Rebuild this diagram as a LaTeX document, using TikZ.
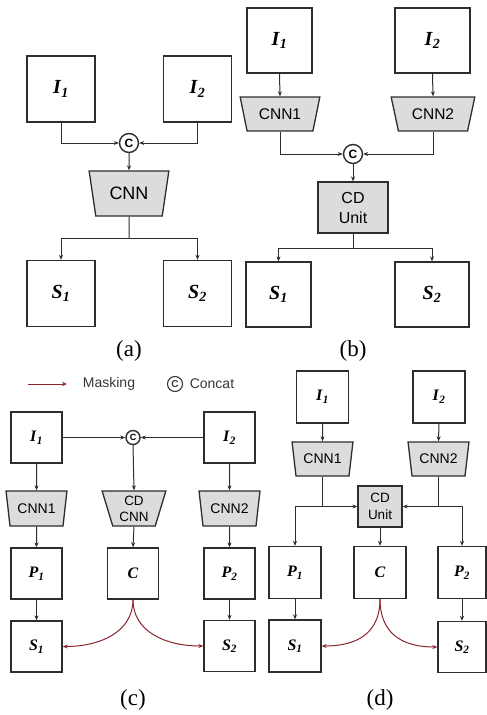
\documentclass[tikz,border=0pt]{standalone}
\usepackage{fontspec}
\setmainfont{Liberation Serif}
\setsansfont{Liberation Sans}
\usetikzlibrary{shapes.geometric,arrows.meta}
\definecolor{edgec}{RGB}{45,45,45}
\definecolor{trapfill}{RGB}{220,220,220}
\definecolor{maskred}{RGB}{140,35,45}
\definecolor{legtext}{RGB}{55,55,55}
\newcommand{\lbl}[2]{\textbf{\textit{#1}}\textsubscript{\textbf{\textit{#2}}}}
\tikzset{
  box/.style={draw=edgec,line width=1.3pt,fill=white,inner sep=0pt},
  bigbox/.style={box,minimum width=68pt,minimum height=66pt,font=\fontsize{20}{20}\selectfont},
  midbox/.style={box,font=\fontsize{20}{20}\selectfont},
  smallbox/.style={box,minimum width=51pt,minimum height=51pt,font=\fontsize{16}{16}\selectfont},
  trap/.style={trapezium,trapezium stretches=true,shape border rotate=180,draw=edgec,line width=1.3pt,fill=trapfill,inner sep=0pt},
  unitbox/.style={draw=edgec,line width=1.3pt,fill=trapfill,inner sep=0pt,align=center},
  conn/.style={draw=edgec,line width=1pt,-{Stealth[length=5pt,width=4pt]}},
  plain/.style={draw=edgec,line width=1pt},
  mask/.style={draw=maskred,line width=1pt,-{Stealth[length=5pt,width=4pt]}},
  cat/.style={circle,draw=edgec,line width=1.4pt,fill=white,inner sep=0pt,font=\sffamily\bfseries},
  captxt/.style={font=\fontsize{23}{23}\selectfont},
  legtxt/.style={font=\sffamily\fontsize{14}{14}\selectfont,text=legtext}
}
\begin{document}
\begin{tikzpicture}[x=1pt,y=-1pt]
\useasboundingbox (0,0) rectangle (487,715);
% ---------------- (a)
\node[bigbox] (aI1) at (61,89) {\lbl{I}{1}};
\node[bigbox] (aI2) at (197.5,89) {\lbl{I}{2}};
\node[cat,minimum size=19pt,font=\sffamily\bfseries\fontsize{12}{12}\selectfont] (acat) at (129,143) {C};
\node[trap,minimum width=80pt,minimum height=45pt,trapezium angle=73,font=\sffamily\fontsize{18}{18}\selectfont] (acnn) at (129,193.5) {CNN};
\node[bigbox] (aS1) at (61,293.5) {\lbl{S}{1}};
\node[bigbox] (aS2) at (197.5,293.5) {\lbl{S}{2}};
\draw[conn] (aI1.south) |- (acat.west);
\draw[conn] (aI2.south) |- (acat.east);
\draw[conn] (acat.south) -- (acnn.north);
\coordinate (asplit) at (129,238);
\draw[plain] (acnn.south) -- (asplit);
\draw[conn] (asplit) -| (aS1.north);
\draw[conn] (asplit) -| (aS2.north);
\node[captxt] (acap) at (129,351) {(a)};
% ---------------- (b)
\node[midbox,minimum width=65pt,minimum height=65pt] (bI1) at (279.5,40.5) {\lbl{I}{1}};
\node[midbox,minimum width=75pt,minimum height=65pt] (bI2) at (432.5,40.5) {\lbl{I}{2}};
\node[trap,minimum width=80pt,minimum height=34pt,trapezium angle=68,font=\sffamily\fontsize{15.5}{15.5}\selectfont] (bcnn1) at (280,114) {CNN1};
\node[trap,minimum width=84pt,minimum height=34pt,trapezium angle=68,font=\sffamily\fontsize{15.5}{15.5}\selectfont] (bcnn2) at (433,114) {CNN2};
\node[cat,minimum size=19pt,font=\sffamily\bfseries\fontsize{12}{12}\selectfont] (bcat) at (353,154) {C};
\node[unitbox,minimum width=70pt,minimum height=51pt,font=\sffamily\fontsize{16}{20}\selectfont] (bunit) at (353,207.5) {CD\\Unit};
\node[midbox,minimum width=65pt,minimum height=65pt] (bS1) at (278.5,294.5) {\lbl{S}{1}};
\node[midbox,minimum width=74pt,minimum height=65pt] (bS2) at (432,294.5) {\lbl{S}{2}};
\draw[conn] (bI1.south) -- (bcnn1.north);
\draw[conn] (bI2.south) -- (bcnn2.north);
\draw[conn] (bcnn1.south) |- (bcat.west);
\draw[conn] (bcnn2.south) |- (bcat.east);
\draw[conn] (bcat.south) -- (bunit.north);
\coordinate (bsplit) at (353,248);
\draw[plain] (bunit.south) -- (bsplit);
\draw[conn] (bsplit) -| (bS1.north);
\draw[conn] (bsplit) -| (bS2.north);
\node[captxt] (bcap) at (353,351) {(b)};
% ---------------- legend
\coordinate (lm0) at (28,384);
\coordinate (lm1) at (67,384);
\draw[mask] (lm0) -- (lm1);
\node[legtxt] (lmask) at (109,384) {Masking};
\node[circle,draw=legtext,line width=1.1pt,inner sep=0pt,minimum size=15pt,text=legtext,font=\sffamily\bfseries\fontsize{10}{10}\selectfont] (lcat) at (175,384) {C};
\node[legtxt] (lconcat) at (212,384) {Concat};
% ---------------- (c)
\node[smallbox] (cI1) at (36.5,437.5) {\lbl{I}{1}};
\node[smallbox] (cI2) at (229.5,437.5) {\lbl{I}{2}};
\node[cat,minimum size=14pt,font=\sffamily\bfseries\fontsize{9}{9}\selectfont] (ccat) at (133,437.5) {C};
\node[trap,minimum width=61pt,minimum height=35pt,trapezium angle=74,font=\sffamily\fontsize{14}{14}\selectfont] (ccnn1) at (36.5,508.5) {CNN1};
\node[trap,minimum width=64pt,minimum height=35pt,trapezium angle=74,align=center,font=\sffamily\fontsize{13.5}{16}\selectfont] (ccd) at (134,508.5) {CD\\CNN};
\node[trap,minimum width=61pt,minimum height=35pt,trapezium angle=74,font=\sffamily\fontsize{14}{14}\selectfont] (ccnn2) at (229.5,508.5) {CNN2};
\node[smallbox] (cP1) at (36.5,573.5) {\lbl{P}{1}};
\node[smallbox] (cC) at (133,573.5) {\textbf{\textit{C}}};
\node[smallbox] (cP2) at (229.5,573.5) {\lbl{P}{2}};
\node[smallbox] (cS1) at (36.5,646.5) {\lbl{S}{1}};
\node[smallbox] (cS2) at (229.5,646) {\lbl{S}{2}};
\draw[conn] (cI1.east) -- (ccat.west);
\draw[conn] (cI2.west) -- (ccat.east);
\draw[conn] (ccat.south) -- (ccd.north);
\draw[conn] (cI1.south) -- (ccnn1.north);
\draw[conn] (cI2.south) -- (ccnn2.north);
\draw[conn] (ccnn1.south) -- (cP1.north);
\draw[conn] (ccd.south) -- (cC.north);
\draw[conn] (ccnn2.south) -- (cP2.north);
\draw[conn] (cP1.south) -- (cS1.north);
\draw[conn] (cP2.south) -- (cS2.north);
\draw[mask] (cC.south) .. controls +(0,32) and +(38,0) .. (cS1.east);
\draw[mask] (cC.south) .. controls +(0,32) and +(-38,0) .. (cS2.west);
\node[captxt] (ccap) at (133,700) {(c)};
% ---------------- (d)
\node[smallbox,minimum width=52pt,minimum height=52pt] (dI1) at (322.5,397) {\lbl{I}{1}};
\node[smallbox,minimum width=52pt,minimum height=52pt] (dI2) at (439,397) {\lbl{I}{2}};
\node[trap,minimum width=61pt,minimum height=34pt,trapezium angle=74,font=\sffamily\fontsize{14}{14}\selectfont] (dcnn1) at (322.5,459) {CNN1};
\node[trap,minimum width=61pt,minimum height=34pt,trapezium angle=74,font=\sffamily\fontsize{14}{14}\selectfont] (dcnn2) at (438.5,459) {CNN2};
\node[unitbox,minimum width=44pt,minimum height=41pt,font=\sffamily\fontsize{13.5}{17}\selectfont] (dunit) at (380,506.5) {CD\\Unit};
\node[smallbox,minimum width=52pt,minimum height=52pt] (dP1) at (295,572.5) {\lbl{P}{1}};
\node[smallbox,minimum width=52pt,minimum height=52pt] (dC) at (380,572.5) {\textbf{\textit{C}}};
\node[smallbox,minimum width=48pt,minimum height=52pt] (dP2) at (462,572.5) {\lbl{P}{2}};
\node[smallbox,minimum width=52pt,minimum height=52pt] (dS1) at (295,646) {\lbl{S}{1}};
\node[smallbox,minimum width=48pt,minimum height=51pt] (dS2) at (462,647) {\lbl{S}{2}};
\draw[conn] (dI1.south) -- (dcnn1.north);
\draw[conn] (dI2.south) -- (dcnn2.north);
\coordinate (dj1) at (dcnn1.south |- dunit.west);
\coordinate (dj2) at (dcnn2.south |- dunit.east);
\draw[conn] (dcnn1.south) |- (dunit.west);
\draw[conn] (dcnn2.south) |- (dunit.east);
\draw[conn] (dj1) -| (dP1.north);
\draw[conn] (dj2) -| (dP2.north);
\draw[conn] (dunit.south) -- (dC.north);
\draw[conn] (dP1.south) -- (dS1.north);
\draw[conn] (dP2.south) -- (dS2.north);
\draw[mask] (dC.south) .. controls +(0,32) and +(38,0) .. (dS1.east);
\draw[mask] (dC.south) .. controls +(0,32) and +(-38,0) .. (dS2.west);
\node[captxt] (dcap) at (380,700) {(d)};
\end{tikzpicture}
\end{document}
